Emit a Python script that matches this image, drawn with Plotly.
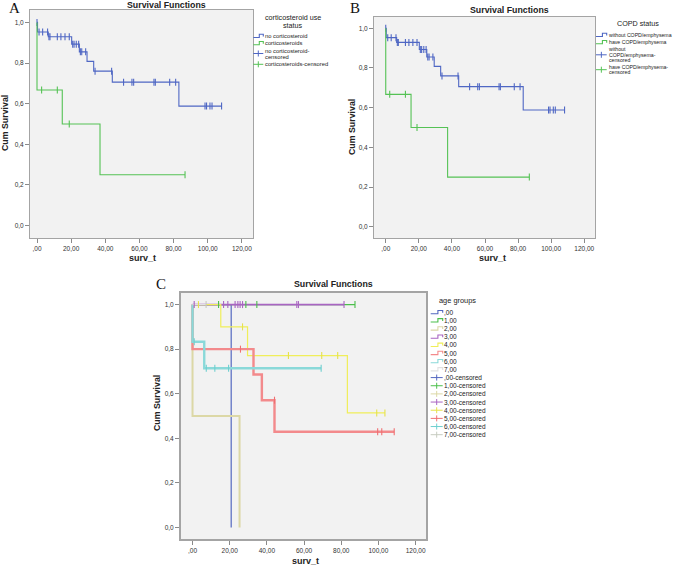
import plotly.graph_objects as go

W, H = 677, 568

# ---------------- data ----------------
x_tick_vals = [0, 20, 40, 60, 80, 100, 120]
x_tick_text = [",00", "20,00", "40,00", "60,00", "80,00", "100,00", "120,00"]
y_tick_vals = [0.0, 0.2, 0.4, 0.6, 0.8, 1.0]
y_tick_text = ["0,0", "0,2", "0,4", "0,6", "0,8", "1,0"]

# Panel A: corticosteroid use status
a_no_times = [0, 0.3, 6.6, 20.3, 24.8, 29.3, 33.2, 44.1, 83.1, 108.1]
a_no_surv = [1.0, 0.953, 0.929, 0.893, 0.855, 0.808, 0.760, 0.706, 0.588, 0.588]
a_no_cens_t = [0, 1.2, 3.3, 6.2, 7.0, 7.6, 11.9, 14.0, 16.4, 18.9, 20.9, 21.7, 23.0, 24.4,
               25.4, 26.2, 28.5, 34.0, 43.7, 50.7, 55.6, 56.6, 68.5, 69.3, 77.7, 81.2,
               98.4, 99.3, 101.3, 102.5, 108.1]
a_no_cens_s = [1.0, 0.953, 0.953, 0.953, 0.929, 0.929, 0.929, 0.929, 0.929, 0.929, 0.893, 0.893, 0.893, 0.893,
               0.855, 0.855, 0.855, 0.760, 0.760, 0.706, 0.706, 0.706, 0.706, 0.706, 0.706, 0.706,
               0.588, 0.588, 0.588, 0.588, 0.588]
a_cs_times = [0, 0, 14.8, 36.9, 86.7]
a_cs_surv = [1.0, 0.667, 0.5, 0.25, 0.25]
a_cs_cens_t = [2.7, 11.9, 18.9, 86.7]
a_cs_cens_s = [0.667, 0.667, 0.5, 0.25]
a_legend_title = ["corticosteroid use", "status"]
a_legend_labels = [["no corticosteroid"], ["corticosteroids"],
                   ["no corticosteroid-", "censored"], ["corticosteroids-censored"]]

# Panel B: COPD status (same survival values as read)
b_without_times = [0, 0.3, 6.6, 20.3, 24.8, 29.3, 33.2, 44.1, 83.1, 108.1]
b_without_surv = [1.0, 0.953, 0.929, 0.893, 0.855, 0.808, 0.760, 0.706, 0.588, 0.588]
b_without_cens_t = list(a_no_cens_t)
b_without_cens_s = list(a_no_cens_s)
b_have_times = [0, 0, 15.3, 37.4, 86.8]
b_have_surv = [1.0, 0.667, 0.5, 0.25, 0.25]
b_have_cens_t = [2.4, 11.9, 18.9, 86.8]
b_have_cens_s = [0.667, 0.667, 0.5, 0.25]
b_legend_title = ["COPD status"]
b_legend_labels = [["without COPD/emphysema"], ["have COPD/emphysema"],
                   ["without", "COPD/emphysema-", "censored"], ["have COPD/emphysema-", "censored"]]

# Panel C: age groups
c_groups = [",00", "1,00", "2,00", "3,00", "4,00", "5,00", "6,00", "7,00"]
c_times = [
    [0, 20.8],
    [0, 87.4],
    [0, 0, 25.3],
    [0, 81.5],
    [0, 15.2, 29.6, 83.3, 103.5],
    [0, 0, 32.8, 37.3, 44.1, 108.5],
    [0, 0, 6.3, 69.2],
    [0, 7.3],
]
c_surv = [
    [1.0, 0.0],
    [1.0, 1.0],
    [1.0, 0.5, 0.0],
    [1.0, 1.0],
    [1.0, 0.9, 0.771, 0.514, 0.514],
    [1.0, 0.8, 0.686, 0.571, 0.429, 0.429],
    [1.0, 0.833, 0.714, 0.714],
    [1.0, 1.0],
]
c_cens_t = [
    [],
    [14.0, 28.7, 34.6, 87.4],
    [],
    [0.9, 16.7, 19.0, 22.9, 24.4, 25.6, 26.9, 56.1, 57.0, 81.5],
    [3.2, 26.9, 51.6, 69.5, 78.1, 99.1, 103.5],
    [25.8, 44.1, 99.6, 101.8, 108.5],
    [0.9, 7.4, 12.0, 19.4, 69.2],
    [7.3],
]
c_cens_s = [
    [],
    [1.0, 1.0, 1.0, 1.0],
    [],
    [1.0] * 10,
    [1.0, 0.9, 0.771, 0.771, 0.771, 0.514, 0.514],
    [0.8, 0.571, 0.429, 0.429, 0.429],
    [0.833, 0.714, 0.714, 0.714, 0.714],
    [1.0],
]
c_legend_title = "age groups"

# ---------------- styles ----------------
BLUE = "#4f67c4"
GREEN = "#55c255"
c_colors = ["#5468c0", "#4cbf4c", "#dcd8a6", "#a965c2", "#f0ee5a", "#f38a8c", "#8ad9d9", "#e2e2e2"]
c_marker_colors = ["#5468c0", "#4cbf4c", "#dcd8a6", "#a965c2", "#e6e24c", "#ef6f72", "#6fcfcf", "#c7ccc0"]
c_widths = [1.2, 1.2, 2.0, 1.6, 1.2, 2.4, 2.4, 1.2]
FONT = "Liberation Sans, Arial, sans-serif"

fig = go.Figure()


def add_km(times, surv, ct, cs, color, xa, ya, width=1.1, mcolor=None):
    fig.add_trace(go.Scatter(x=times, y=surv, mode="lines", line=dict(color=color, width=width, shape="hv"),
                             xaxis=xa, yaxis=ya, showlegend=False, hoverinfo="skip"))
    if ct:
        mc = mcolor or color
        fig.add_trace(go.Scatter(x=ct, y=cs, mode="markers",
                                 marker=dict(symbol="line-ns", size=5, color=mc, line=dict(width=1.1, color=mc)),
                                 xaxis=xa, yaxis=ya, showlegend=False, hoverinfo="skip"))


add_km(a_no_times, a_no_surv, a_no_cens_t, a_no_cens_s, BLUE, "x", "y")
add_km(a_cs_times, a_cs_surv, a_cs_cens_t, a_cs_cens_s, GREEN, "x", "y")
add_km(b_without_times, b_without_surv, b_without_cens_t, b_without_cens_s, BLUE, "x2", "y2")
add_km(b_have_times, b_have_surv, b_have_cens_t, b_have_cens_s, GREEN, "x2", "y2")
for i in range(len(c_groups)):
    add_km(c_times[i], c_surv[i], [], [], c_colors[i], "x3", "y3", width=c_widths[i])
for i in range(len(c_groups)):
    if c_cens_t[i]:
        add_km([], [], c_cens_t[i], c_cens_s[i], c_colors[i], "x3", "y3", mcolor=c_marker_colors[i])


def px(x):
    return x / W


def py(y):
    return 1 - y / H


def axis_pair(xdom, ydom, xr, yr, lw, anchor_x, anchor_y):
    common = dict(ticks="outside", ticklen=4, tickcolor="#8a8a8a", tickwidth=1, showline=True,
                  linecolor="#a4a4a4", linewidth=lw, mirror=True, showgrid=False, zeroline=False,
                  tickfont=dict(family=FONT, size=6.5, color="#333"), fixedrange=True)
    xa = dict(domain=xdom, range=xr, tickvals=x_tick_vals, ticktext=x_tick_text, anchor=anchor_y, **common)
    ya = dict(domain=ydom, range=yr, tickvals=y_tick_vals, ticktext=y_tick_text, anchor=anchor_x, **common)
    return xa, ya


xa1, ya1 = axis_pair([px(30), px(253)], [py(238), py(10)], [-4.1, 126.5], [-0.061, 1.061], 1, "x", "y")
xa2, ya2 = axis_pair([px(374), px(595)], [py(238), py(17)], [-7.1, 126.5], [-0.057, 1.057], 1, "x2", "y2")
xa3, ya3 = axis_pair([px(181), px(426)], [py(539), py(293)], [-6.2, 125.6], [-0.052, 1.052], 2, "x3", "y3")

annotations = []
shapes = []


def text(x, y, s, size=7, bold=False, xanchor="left", angle=0, family=FONT, color="#222"):
    annotations.append(dict(x=px(x), y=py(y), xref="paper", yref="paper", text=f"<b>{s}</b>" if bold else s,
                            showarrow=False, xanchor=xanchor, yanchor="middle", textangle=angle,
                            font=dict(family=family, size=size, color=color), borderpad=0))


def step_icon(x0, x1, y, color, width=1.1):
    xm = x0 + (x1 - x0) * 0.6
    path = (f"M {px(x0)},{py(y + 1.5)} L {px(xm)},{py(y + 1.5)} L {px(xm)},{py(y - 1.8)} "
            f"L {px(x1)},{py(y - 1.8)} L {px(x1)},{py(y + 0.5)}")
    shapes.append(dict(type="path", path=path, xref="paper", yref="paper", line=dict(color=color, width=width)))


def cens_icon(x0, x1, y, color):
    xm = (x0 + x1) / 2
    shapes.append(dict(type="line", x0=px(x0), x1=px(x1), y0=py(y), y1=py(y), xref="paper", yref="paper",
                       line=dict(color=color, width=1)))
    shapes.append(dict(type="line", x0=px(xm), x1=px(xm), y0=py(y - 3), y1=py(y + 3), xref="paper",
                       yref="paper", line=dict(color=color, width=1)))


# titles, letters, axis titles
text(8, 8, "A", size=15, family="Liberation Serif, Times New Roman, serif", color="#111")
text(349, 8, "B", size=15, family="Liberation Serif, Times New Roman, serif", color="#111")
text(155, 284, "C", size=15, family="Liberation Serif, Times New Roman, serif", color="#111")
text(166, 5, "Survival Functions", size=8.8, bold=True, xanchor="center")
text(510, 10, "Survival Functions", size=8.8, bold=True, xanchor="center")
text(333, 284, "Survival Functions", size=8.8, bold=True, xanchor="center")
text(142, 258, "surv_t", size=9, bold=True, xanchor="center")
text(492, 258, "surv_t", size=9, bold=True, xanchor="center")
text(305, 561, "surv_t", size=9, bold=True, xanchor="center")
text(5, 123, "Cum Survival", size=8.8, bold=True, xanchor="center", angle=-90)
text(352, 127, "Cum Survival", size=8.8, bold=True, xanchor="center", angle=-90)
text(157, 403, "Cum Survival", size=8.8, bold=True, xanchor="center", angle=-90)

# legend A
for s, yy in zip(a_legend_title, [17.8, 25.8]):
    text(293, yy, s, size=7.2, xanchor="center")
a_item_y = [[36], [43.3], [51.3, 56.9], [64.3]]
a_icon_y = [36, 43.3, 53.5, 64.3]
a_icon_kind = [("step", BLUE), ("step", GREEN), ("cens", BLUE), ("cens", GREEN)]
for labels, ys, iy, (kind, col) in zip(a_legend_labels, a_item_y, a_icon_y, a_icon_kind):
    for s, yy in zip(labels, ys):
        text(264.3, yy, s, size=5.8)
    (step_icon if kind == "step" else cens_icon)(253.3, 263.3, iy, col)

# legend B
text(638, 24, b_legend_title[0], size=7.2, xanchor="center")
b_item_y = [[35], [42.3], [49.4, 54.8, 60.2], [67.0, 72.4]]
b_icon_y = [35, 42.3, 54.8, 69.7]
for labels, ys, iy, (kind, col) in zip(b_legend_labels, b_item_y, b_icon_y, a_icon_kind):
    for s, yy in zip(labels, ys):
        text(607.5, yy, s, size=5.2)
    (step_icon if kind == "step" else cens_icon)(596, 606.7, iy, col)

# legend C
text(457.7, 300.7, c_legend_title, size=7.4, xanchor="center")
c_labels = c_groups + [g + "-censored" for g in c_groups]
for k, lab in enumerate(c_labels):
    yy = 312.3 + k * 8.16
    text(443.3, yy, lab, size=6.5)
    gi = k % 8
    if k < 8:
        step_icon(430.7, 442.7, yy, c_colors[gi])
    else:
        cens_icon(430.7, 442.7, yy, c_marker_colors[gi])

fig.update_layout(
    width=W, height=H, autosize=False,
    margin=dict(l=0, r=0, t=0, b=0),
    paper_bgcolor="white", plot_bgcolor="#f2f2f2",
    showlegend=False,
    xaxis=xa1, yaxis=ya1, xaxis2=xa2, yaxis2=ya2, xaxis3=xa3, yaxis3=ya3,
    annotations=annotations, shapes=shapes,
    font=dict(family=FONT),
)

fig.write_html("out.html", config={"displayModeBar": False},
               post_script="document.body.style.margin='0';document.body.style.overflow='hidden';")
